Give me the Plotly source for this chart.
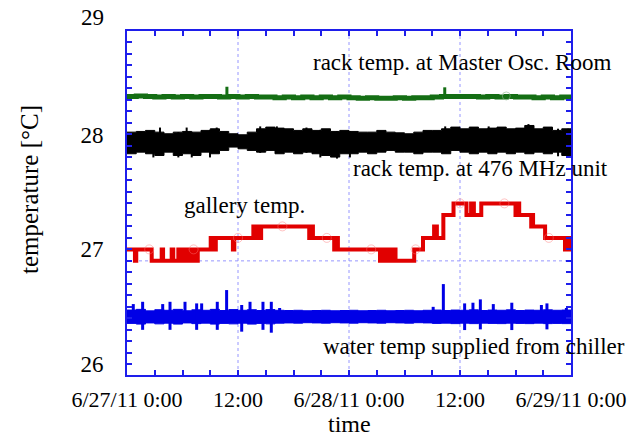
import pandas as pd
import plotly.graph_objects as go

START = pd.Timestamp("2011-06-27 00:00")

# ---------------- data (hours since 6/27/11 0:00, temperatures in degC) ----------------
hours = list(range(49))

black_upper = [28.020, 28.026, 28.035, 28.020, 28.006, 28.020, 28.026, 28.020, 28.035, 28.049,
               28.026, 28.006, 27.997, 28.020, 28.049, 28.064, 28.055, 28.049, 28.035, 28.049,
               28.035, 28.049, 28.026, 28.035, 28.026, 28.020, 28.020, 28.035, 28.020, 28.014,
               28.006, 28.020, 28.035, 28.035, 28.049, 28.064, 28.049, 28.064, 28.049, 28.055,
               28.064, 28.049, 28.055, 28.078, 28.049, 28.064, 28.035, 28.049, 28.035]
black_lower = [27.832, 27.846, 27.832, 27.817, 27.846, 27.817, 27.832, 27.817, 27.846, 27.832,
               27.861, 27.890, 27.875, 27.861, 27.846, 27.861, 27.832, 27.846, 27.832, 27.846,
               27.832, 27.817, 27.803, 27.832, 27.832, 27.846, 27.832, 27.846, 27.861, 27.846,
               27.846, 27.832, 27.846, 27.846, 27.832, 27.861, 27.846, 27.832, 27.846, 27.832,
               27.846, 27.832, 27.846, 27.832, 27.846, 27.832, 27.846, 27.817, 27.832]
black_spike_h = [2.85, 3.57, 5.55, 6.45, 7.0, 8.97, 9.7, 14.4, 16.2, 19.4, 20.9, 22.7, 24.1,
                 34.4, 39.1, 43.4, 46.6, 47.7]
black_spike_hi = [28.02, 28.06, 28.02, 28.06, 28.02, 28.04, 28.06, 28.07, 28.07, 28.06, 28.04, 28.03, 28.03,
                  28.07, 28.07, 28.09, 28.05, 28.05]
black_spike_lo = [27.80, 27.84, 27.80, 27.84, 27.80, 27.80, 27.84, 27.84, 27.84, 27.84, 27.80, 27.79, 27.80,
                  27.84, 27.84, 27.84, 27.81, 27.81]

green_vals = [28.330, 28.335, 28.330, 28.325, 28.330, 28.325, 28.330, 28.325, 28.330, 28.330,
              28.325, 28.330, 28.325, 28.330, 28.325, 28.325, 28.320, 28.325, 28.320, 28.325,
              28.320, 28.325, 28.320, 28.325, 28.320, 28.315, 28.320, 28.315, 28.315, 28.320,
              28.315, 28.320, 28.320, 28.325, 28.330, 28.330, 28.330, 28.330, 28.325, 28.330,
              28.325, 28.330, 28.325, 28.325, 28.320, 28.325, 28.320, 28.325, 28.325]
green_spike_h = [10.8, 34.35]
green_spike_hi = [28.415, 28.41]
green_spike_lo = [28.33, 28.32]

blue_upper = [26.472, 26.478, 26.465, 26.475, 26.470, 26.478, 26.466, 26.474, 26.470, 26.478,
              26.468, 26.476, 26.470, 26.475, 26.468, 26.476, 26.470, 26.468, 26.470, 26.466,
              26.468, 26.470, 26.466, 26.468, 26.470, 26.466, 26.468, 26.470, 26.466, 26.468,
              26.470, 26.466, 26.470, 26.472, 26.468, 26.472, 26.470, 26.474, 26.468, 26.472,
              26.470, 26.474, 26.468, 26.472, 26.470, 26.474, 26.470, 26.472, 26.470]
blue_lower = [26.356, 26.350, 26.360, 26.352, 26.358, 26.350, 26.360, 26.354, 26.358, 26.350,
              26.356, 26.352, 26.358, 26.350, 26.356, 26.352, 26.358, 26.360, 26.358, 26.362,
              26.360, 26.358, 26.362, 26.360, 26.358, 26.362, 26.360, 26.358, 26.362, 26.360,
              26.358, 26.362, 26.360, 26.356, 26.358, 26.354, 26.358, 26.354, 26.358, 26.356,
              26.354, 26.358, 26.356, 26.354, 26.358, 26.354, 26.356, 26.354, 26.356]
blue_spike_h = [0.68, 1.69, 3.86, 4.65, 6.27, 7.53, 8.07, 9.76, 10.77, 12.4, 13.3, 14.7, 15.6, 16.5,
                33.1, 34.2, 36.5, 37.4, 38.2, 39.6, 41.6, 44.8, 45.4, 47.5]
blue_spike_hi = [26.524, 26.544, 26.524, 26.544, 26.544, 26.530, 26.530, 26.544, 26.646, 26.516,
                 26.544, 26.544, 26.544, 26.490, 26.500, 26.698, 26.530, 26.536, 26.565, 26.524,
                 26.536, 26.516, 26.530, 26.490]
blue_spike_lo = [26.42, 26.30, 26.42, 26.30, 26.42, 26.30, 26.42, 26.30, 26.42, 26.284,
                 26.42, 26.30, 26.275, 26.42, 26.42, 26.42, 26.298, 26.42, 26.304, 26.42,
                 26.298, 26.42, 26.304, 26.42]

red_h = [0, 0.86, 1.0, 2.67, 3.75, 3.9, 4.83, 5.0, 5.55, 5.73, 6.09, 6.27, 6.45, 6.65, 6.8, 6.95,
         7.1, 7.3, 7.4, 7.55, 7.65, 9.05, 9.45, 9.6, 11.45, 11.6, 13.66, 13.8, 13.95, 14.1, 14.25,
         14.4, 14.5, 19.7, 19.8, 19.9, 20.0, 20.1, 22.4, 22.5, 22.6, 22.7, 22.8,
         27.35, 27.47, 27.59, 27.71, 27.83, 27.95, 28.07, 28.19, 28.31, 28.43, 28.55, 28.67, 28.79,
         28.91, 29.03, 29.15, 31.05, 32.0, 33.2, 33.3, 33.4, 33.5, 34.2, 35.3, 36.7, 37.2, 37.3,
         37.4, 37.5, 38.3, 42.0, 42.1, 42.2, 42.3, 42.4, 43.7, 43.8, 43.9, 45.2, 47.35, 47.45,
         47.55, 47.65, 47.75, 47.85, 47.95, 48.0]
red_v = [27.0, 26.9, 27.0, 26.9, 27.0, 26.9, 27.0, 26.9, 27.0, 26.9, 27.0, 26.9, 27.0, 26.9, 27.0, 26.9,
         27.0, 26.9, 27.0, 26.9, 27.0, 27.1, 27.0, 27.1, 27.0, 27.1, 27.2, 27.1, 27.2, 27.1, 27.2,
         27.1, 27.2, 27.1, 27.2, 27.1, 27.2, 27.1, 27.0, 27.1, 27.0, 27.1, 27.0,
         26.9, 27.0, 26.9, 27.0, 26.9, 27.0, 26.9, 27.0, 26.9, 27.0, 26.9, 27.0, 26.9,
         27.0, 26.9, 26.9, 27.0, 27.1, 27.2, 27.1, 27.2, 27.1, 27.3, 27.4, 27.3, 27.4, 27.3,
         27.4, 27.3, 27.4, 27.3, 27.4, 27.3, 27.4, 27.3, 27.2, 27.3, 27.2, 27.1, 27.0, 27.1,
         27.0, 27.1, 27.0, 27.1, 27.0, 27.0]

red_mark_h = [2.4, 7.2, 12.0, 16.8, 21.6, 26.4, 31.2, 36.0, 40.8, 45.6]
red_mark_v = [27.0, 27.0, 27.1, 27.2, 27.1, 27.0, 27.0, 27.4, 27.4, 27.1]
green_mark_h = [41.0]
green_mark_v = [28.335]

grid_h = [12, 24, 36]
grid_t = [26.9, 27.9]

tick_h = [0, 12, 24, 36, 48]
tick_text = ["6/27/11 0:00", "12:00", "6/28/11 0:00", "12:00", "6/29/11 0:00"]
ytick_vals = [26, 27, 28]

labels = ["rack temp. at Master Osc. Room", "rack temp. at 476 MHz unit",
          "gallery temp.", "water temp supplied from chiller"]


def T(hs):
    return [START + pd.Timedelta(hours=h) for h in hs]


def segs(hs, lo, hi):
    xs, ys = [], []
    for h, a, b in zip(hs, lo, hi):
        xs += [START + pd.Timedelta(hours=h)] * 2 + [None]
        ys += [a, b, None]
    return xs, ys


BLUE_AX = "rgb(30,30,235)"
FONT = "'Liberation Serif', 'Times New Roman', 'DejaVu Serif', serif"

fig = go.Figure()

# black band
fig.add_trace(go.Scatter(x=T(hours), y=black_upper, mode="lines", line=dict(color="black", width=1, shape="hv")))
fig.add_trace(go.Scatter(x=T(hours), y=black_lower, mode="lines", line=dict(color="black", width=1, shape="hv"),
                         fill="tonexty", fillcolor="black"))
kx, ky = segs(black_spike_h, black_spike_lo, black_spike_hi)
fig.add_trace(go.Scatter(x=kx, y=ky, mode="lines", line=dict(color="black", width=2)))
# green
fig.add_trace(go.Scatter(x=T(hours), y=green_vals, mode="lines", line=dict(color="rgb(20,110,20)", width=5, shape="hv")))
gx, gy = segs(green_spike_h, green_spike_lo, green_spike_hi)
fig.add_trace(go.Scatter(x=gx, y=gy, mode="lines", line=dict(color="rgb(20,110,20)", width=3)))
fig.add_trace(go.Scatter(x=T(green_mark_h), y=green_mark_v, mode="markers",
                         marker=dict(symbol="circle-open", size=8, color="rgba(140,180,140,0.6)")))
# blue band
fig.add_trace(go.Scatter(x=T(hours), y=blue_upper, mode="lines", line=dict(color="rgb(0,0,230)", width=1, shape="hv")))
fig.add_trace(go.Scatter(x=T(hours), y=blue_lower, mode="lines", line=dict(color="rgb(0,0,230)", width=1, shape="hv"),
                         fill="tonexty", fillcolor="rgb(0,0,230)"))
bx, by = segs(blue_spike_h, blue_spike_lo, blue_spike_hi)
fig.add_trace(go.Scatter(x=bx, y=by, mode="lines", line=dict(color="rgb(0,0,230)", width=3)))
# red
fig.add_trace(go.Scatter(x=T(red_h), y=red_v, mode="lines", line=dict(color="rgb(225,0,0)", width=4, shape="hv")))
fig.add_trace(go.Scatter(x=T(red_mark_h), y=red_mark_v, mode="markers",
                         marker=dict(symbol="circle-open", size=9, color="rgba(255,120,120,0.45)",
                                     line=dict(width=1))))

# dotted grid
for h in grid_h:
    t = START + pd.Timedelta(hours=h)
    fig.add_shape(type="line", x0=t, x1=t, y0=0, y1=1, xref="x", yref="paper", layer="below",
                  line=dict(color="rgb(150,150,255)", width=1, dash="dot"))
for v in grid_t:
    fig.add_shape(type="line", x0=0, x1=1, y0=v, y1=v, xref="paper", yref="y", layer="below",
                  line=dict(color="rgb(150,150,255)", width=1, dash="dot"))

ann = dict(showarrow=False, xref="paper", yref="paper", font=dict(family=FONT, size=23, color="black"))
fig.add_annotation(text=labels[0], x=1.0946, y=0.907, xanchor="right", yanchor="middle", **ann)
fig.add_annotation(text=labels[1], x=1.0878, y=0.6017, xanchor="right", yanchor="middle", **ann)
fig.add_annotation(text=labels[2], x=0.1239, y=0.494, xanchor="left", yanchor="middle", **ann)
fig.add_annotation(text=labels[3], x=1.1261, y=0.0843, xanchor="right", yanchor="middle", **ann)
# "29" label sits above the frame in the original
fig.add_annotation(text="29", x=-0.0473, y=1.0378, xanchor="right", yanchor="middle",
                   showarrow=False, xref="paper", yref="paper", font=dict(family=FONT, size=23, color="black"))
# axis titles
fig.add_annotation(text="temperature [°C]", x=-0.2185, y=0.5407, textangle=-90, xanchor="center", yanchor="middle",
                   showarrow=False, xref="paper", yref="paper", font=dict(family=FONT, size=25, color="black"))
fig.add_annotation(text="time", x=0.5, y=-0.1424, xanchor="center", yanchor="middle",
                   showarrow=False, xref="paper", yref="paper", font=dict(family=FONT, size=24, color="black"))

fig.update_layout(
    width=640, height=436,
    margin=dict(l=127, r=69, t=31, b=61),
    paper_bgcolor="white", plot_bgcolor="white",
    showlegend=False,
    font=dict(family=FONT, size=22, color="black"),
    xaxis=dict(type="date", range=[START, START + pd.Timedelta(hours=48)],
               tickmode="array", tickvals=T(tick_h), ticktext=tick_text,
               ticks="inside", ticklen=5, tickwidth=1.5, tickcolor=BLUE_AX,
               minor=dict(ticks="inside", ticklen=5, tickwidth=1.5, tickcolor=BLUE_AX,
                          dtick=3 * 3600 * 1000, tick0=START),
               showline=True, linecolor=BLUE_AX, linewidth=2, mirror="ticks",
               showgrid=False, zeroline=False, ticklabelstandoff=4,
               tickfont=dict(family=FONT, size=22)),
    yaxis=dict(range=[25.907, 28.9], tickmode="array", tickvals=ytick_vals,
               ticktext=[str(v) for v in ytick_vals],
               ticks="inside", ticklen=5, tickwidth=1.5, tickcolor=BLUE_AX,
               minor=dict(ticks="inside", ticklen=5, tickwidth=1.5, tickcolor=BLUE_AX, dtick=0.1, tick0=26),
               showline=True, linecolor=BLUE_AX, linewidth=2, mirror="ticks",
               showgrid=False, zeroline=False, ticklabelstandoff=17,
               tickfont=dict(family=FONT, size=23)),
)

fig.write_html("out.html", config={"displayModeBar": False},
               post_script="document.body.style.margin='0px';")
